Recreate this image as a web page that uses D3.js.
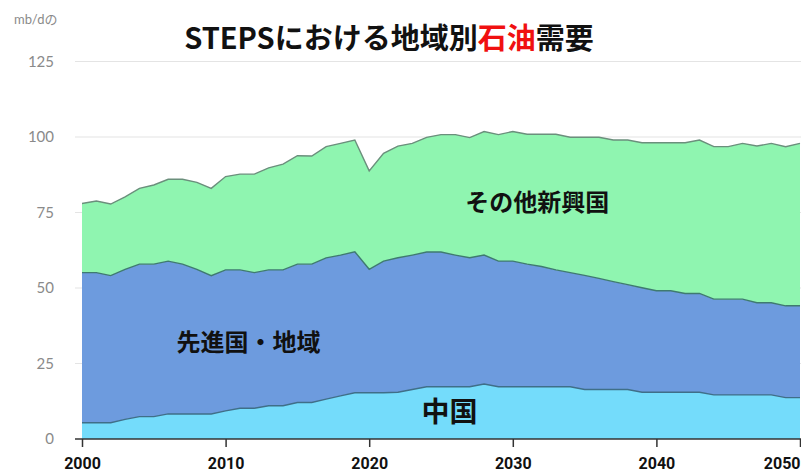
<!DOCTYPE html>
<html>
<head>
<meta charset="utf-8">
<script src="https://cdn.jsdelivr.net/npm/d3@7"></script>
<style>
  html, body { margin: 0; padding: 0; background: #fff; }
  svg { display: block; }
</style>
</head>
<body>
<svg id="chart" width="801" height="476"></svg>
<script>
// Oil demand by region under STEPS, mb/d
const years = d3.range(2000, 2051);
const china = [5.4, 5.4, 5.4, 6.5, 7.4, 7.4, 8.3, 8.3, 8.3, 8.3,
  9.3, 10.2, 10.2, 11.0, 11.0, 12.1, 12.1, 13.2, 14.3, 15.3,
  15.3, 15.3, 15.5, 16.4, 17.3, 17.3, 17.3, 17.3, 18.2, 17.3,
  17.3, 17.3, 17.3, 17.3, 17.3, 16.4, 16.4, 16.4, 16.4, 15.5,
  15.5, 15.5, 15.5, 15.5, 14.6, 14.6, 14.6, 14.6, 14.6, 13.7, 13.7];
const advanced = [49.7, 49.7, 48.7, 49.7, 50.5, 50.5, 50.6, 49.6, 47.9, 45.8,
  46.7, 45.8, 44.9, 45.0, 45.0, 45.8, 45.8, 46.8, 46.6, 46.7,
  40.9, 43.6, 44.5, 44.5, 44.6, 44.6, 43.6, 42.7, 42.7, 41.6,
  41.6, 40.6, 39.8, 38.7, 37.8, 37.8, 36.8, 35.7, 34.7, 34.6,
  33.6, 33.6, 32.7, 32.7, 31.7, 31.7, 31.7, 30.5, 30.5, 30.4, 30.4];
const emerging = [22.9, 23.7, 23.7, 24.0, 25.1, 26.2, 27.1, 28.1, 28.8, 28.9,
  30.9, 31.7, 32.6, 33.8, 35.0, 35.9, 35.8, 36.8, 37.0, 37.0,
  32.6, 35.7, 37.0, 37.0, 38.0, 38.9, 39.9, 39.8, 40.9, 41.9,
  42.9, 43.0, 43.8, 44.9, 44.8, 45.7, 46.7, 46.9, 47.9, 48.0,
  49.0, 49.0, 49.9, 50.8, 50.5, 50.5, 51.6, 51.9, 52.8, 52.7, 53.8];
const seriesKeys = ["china", "advanced", "emerging"];
const seriesNames = ["中国", "先進国・地域", "その他新興国"];
const yTicks = [0, 25, 50, 75, 100, 125];
const xTicks = [2000, 2010, 2020, 2030, 2040, 2050];

const rows = years.map((yr, i) => ({
  year: yr, china: china[i], advanced: advanced[i], emerging: emerging[i]
}));

const svg = d3.select("#chart");
const x = d3.scaleLinear().domain([2000, 2050]).range([82, 800]);
const y = d3.scaleLinear().domain([0, 125]).range([439, 61.5]);

const fills = { china: "#74dcfb", advanced: "#6d9bde", emerging: "#8ff5b0" };
const strokes = { china: "#3f6f88", advanced: "#3f7a70", emerging: "#6b8f7c" };

// grid lines
svg.append("g")
  .selectAll("line")
  .data(yTicks.filter(d => d > 0))
  .join("line")
  .attr("x1", 75).attr("x2", 801)
  .attr("y1", d => y(d)).attr("y2", d => y(d))
  .attr("stroke", "#e4e4e4").attr("stroke-width", 1.2);

// y tick labels
svg.append("g")
  .selectAll("text")
  .data(yTicks)
  .join("text")
  .attr("x", 54).attr("y", d => y(d))
  .attr("dy", "0.35em")
  .attr("text-anchor", "end")
  .attr("font-family", "Lato, 'Noto Sans', sans-serif")
  .attr("font-size", 15)
  .attr("fill", "#8a8a8a")
  .text(d => d);

svg.append("text")
  .attr("x", 14).attr("y", 24)
  .attr("font-family", "Lato, 'Noto Sans CJK JP', sans-serif")
  .attr("font-size", 13)
  .attr("fill", "#8a8a8a")
  .text("mb/dの");

// stacked areas
const stack = d3.stack().keys(seriesKeys);
const layers = stack(rows);
const area = d3.area()
  .x(d => x(d.data.year))
  .y0(d => y(d[0]))
  .y1(d => y(d[1]));
const topLine = d3.line()
  .x(d => x(d.data.year))
  .y(d => y(d[1]));

svg.append("g")
  .selectAll("path")
  .data(layers)
  .join("path")
  .attr("d", area)
  .attr("fill", d => fills[d.key]);

svg.append("g")
  .selectAll("path")
  .data(layers)
  .join("path")
  .attr("d", topLine)
  .attr("fill", "none")
  .attr("stroke", d => strokes[d.key])
  .attr("stroke-width", 1.4);

// x axis
const xAxis = d3.axisBottom(x).tickValues(xTicks).tickFormat(d3.format("d"))
  .tickSize(8).tickPadding(11);
const gx = svg.append("g").attr("transform", `translate(0,${y(0)})`).call(xAxis);
gx.select(".domain").remove();
gx.append("line")
  .attr("x1", 75).attr("x2", 801)
  .attr("stroke", "#333").attr("stroke-width", 1.5);
gx.selectAll(".tick line").attr("stroke", "#333").attr("stroke-width", 1.5);
gx.selectAll(".tick text")
  .attr("font-family", "Roboto, 'Noto Sans', sans-serif")
  .attr("font-weight", "bold")
  .attr("font-size", 16)
  .attr("fill", "#111");
// the last label sits against the right edge
gx.selectAll(".tick text")
  .filter(d => d === 2050)
  .attr("text-anchor", "end")
  .attr("x", 0);

// series labels
const labelPos = {
  emerging: { yr: 2031.7, v: 78.5, size: 24 },
  advanced: { yr: 2011.6, v: 32.1, size: 24 },
  china: { yr: 2025.6, v: 8.9, size: 28 }
};
svg.append("g")
  .selectAll("text")
  .data(seriesKeys)
  .join("text")
  .attr("x", k => x(labelPos[k].yr))
  .attr("y", k => y(labelPos[k].v))
  .attr("dy", "0.36em")
  .attr("text-anchor", "middle")
  .attr("font-family", "'Noto Sans CJK JP', sans-serif")
  .attr("font-weight", "bold")
  .attr("font-size", k => labelPos[k].size)
  .attr("fill", "#111")
  .text(k => seriesNames[seriesKeys.indexOf(k)]);

// title
const title = svg.append("text")
  .attr("x", 389).attr("y", 39)
  .attr("dy", "0.35em")
  .attr("text-anchor", "middle")
  .attr("font-family", "'Noto Sans CJK JP', sans-serif")
  .attr("font-weight", "bold")
  .attr("font-size", 29)
  .attr("fill", "#111");
title.append("tspan").text("STEPSにおける地域別");
title.append("tspan").attr("fill", "#f01010").text("石油");
title.append("tspan").text("需要");
</script>
</body>
</html>
